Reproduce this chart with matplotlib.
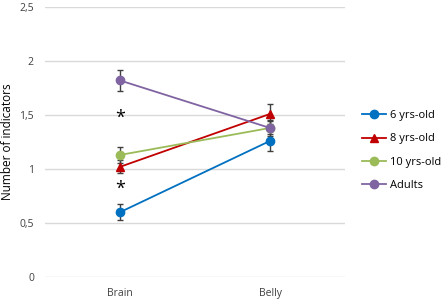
import numpy as np
import matplotlib.pyplot as plt

plt.rcParams['font.family'] = ['Open Sans', 'DejaVu Sans']

categories = ['Brain', 'Belly']
groups = ['6 yrs-old', '8 yrs-old', '10 yrs-old', 'Adults']
values = {
    '6 yrs-old': [0.60, 1.26],
    '8 yrs-old': [1.02, 1.51],
    '10 yrs-old': [1.13, 1.38],
    'Adults': [1.82, 1.38],
}
errors = {
    '6 yrs-old': [0.075, 0.09],
    '8 yrs-old': [0.06, 0.09],
    '10 yrs-old': [0.07, 0.07],
    'Adults': [0.10, 0.06],
}
colors = ['#0070C0', '#C00000', '#9BBB59', '#8064A2']
markers = ['o', '^', 'o', 'o']
star_y = [1.47, 0.82]

fig = plt.figure(figsize=(4.47, 3.01), dpi=100)
ax = fig.add_axes([45 / 447, 24 / 301, 300 / 447, 270 / 301])

x = np.arange(len(categories)) + 0.5
for g, c, m in zip(groups, colors, markers):
    ax.errorbar(x, values[g], yerr=errors[g], color=c, marker=m, markersize=6,
                linewidth=1.3, ecolor='#404040', elinewidth=1, capsize=2.5,
                capthick=1, label=g, zorder=3)

for sy in star_y:
    ax.text(x[0], sy, '*', ha='center', va='center', fontsize=13, color='black')

ax.set_xlim(0, 2)
ax.set_ylim(0, 2.5)
ax.set_xticks(x)
ax.set_xticklabels(categories)
ax.set_yticks([0, 0.5, 1, 1.5, 2, 2.5])
ax.set_yticklabels(['0', '0,5', '1', '1,5', '2', '2,5'])
ax.yaxis.grid(True, color='#D9D9D9', linewidth=1)
ax.set_axisbelow(True)
for s in ax.spines.values():
    s.set_visible(False)
ax.tick_params(length=0, labelsize=7.5, colors='#404040', pad=8)
ax.set_ylabel('Number of indicators', fontsize=8.5, color='black')

handles, labels = ax.get_legend_handles_labels()
handles = [h[0] for h in handles]
fig.legend(handles, labels, loc='center left', bbox_to_anchor=(352 / 447, 0.5),
           frameon=False, fontsize=8, handlelength=2.2, labelspacing=1.1,
           handletextpad=0.3)

fig.savefig('out.png', dpi=100)
